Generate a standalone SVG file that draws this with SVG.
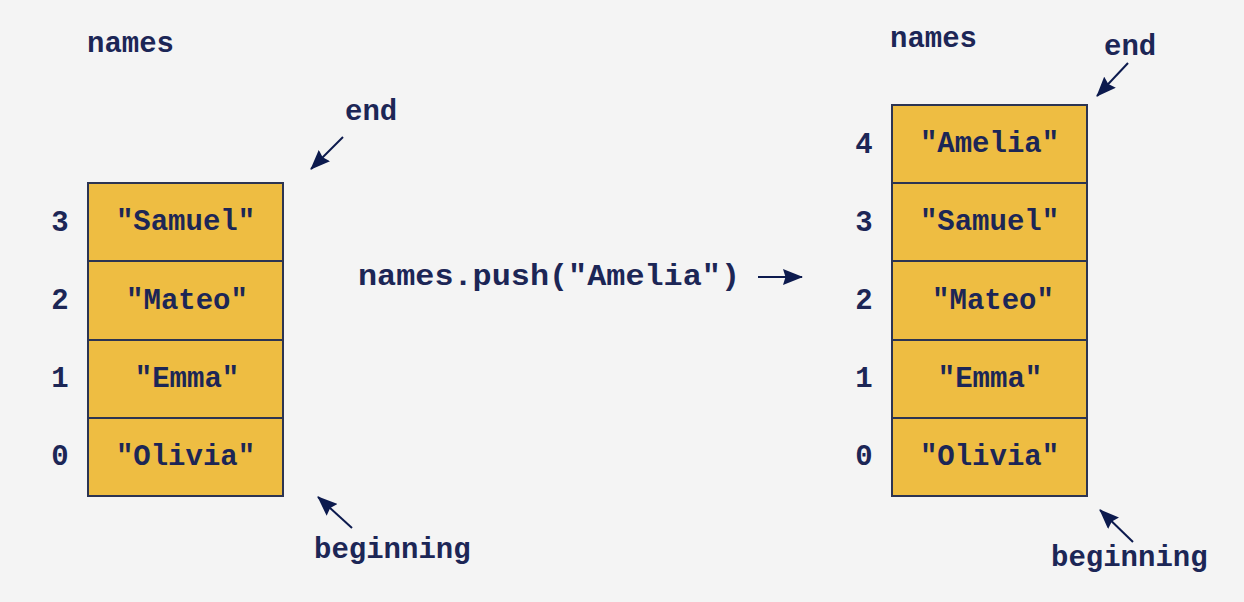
<svg xmlns="http://www.w3.org/2000/svg" width="1244" height="602" viewBox="0 0 1244 602">
<style>
.t{font-family:"Liberation Mono","Courier New",monospace;font-weight:bold;font-size:29px;fill:#1c2656}
.c{text-anchor:middle}
.cell{fill:#eebd42;stroke:#2c3452;stroke-width:2}
.arr{stroke:#0c1a4e;stroke-width:2;fill:none;marker-end:url(#ah)}
</style>
<defs>
<marker id="ah" viewBox="0 0 20 16" refX="19" refY="8" markerWidth="20" markerHeight="16" markerUnits="userSpaceOnUse" orient="auto">
<path d="M0,0 L20,8 L0,16 L2.5,8 z" fill="#0c1a4e"/>
</marker>
</defs>
<rect width="1244" height="602" fill="#f4f4f4"/>

<g id="left-array">
<text class="t" x="87" y="52">names</text>
<g id="l3"><rect class="cell" x="88" y="183" width="195" height="78"/><text class="t c" x="185.5" y="230">"Samuel"</text><text class="t c" x="60" y="231">3</text></g>
<g id="l2"><rect class="cell" x="88" y="261" width="195" height="79"/><text class="t c" x="187" y="309">"Mateo"</text><text class="t c" x="60" y="309">2</text></g>
<g id="l1"><rect class="cell" x="88" y="340" width="195" height="78"/><text class="t c" x="187" y="387">"Emma"</text><text class="t c" x="60" y="387">1</text></g>
<g id="l0"><rect class="cell" x="88" y="418" width="195" height="78"/><text class="t c" x="185.5" y="465">"Olivia"</text><text class="t c" x="60" y="465">0</text></g>
<text class="t" x="345" y="120">end</text>
<text class="t" x="314" y="558">beginning</text>
</g>

<g id="right-array">
<text class="t" x="890" y="47">names</text>
<g id="r4"><rect class="cell" x="892" y="105" width="195" height="78"/><text class="t c" x="989.5" y="152">"Amelia"</text><text class="t c" x="864" y="153">4</text></g>
<g id="r3"><rect class="cell" x="892" y="183" width="195" height="78"/><text class="t c" x="989.5" y="230">"Samuel"</text><text class="t c" x="864" y="231">3</text></g>
<g id="r2"><rect class="cell" x="892" y="261" width="195" height="79"/><text class="t c" x="993" y="309">"Mateo"</text><text class="t c" x="864" y="309">2</text></g>
<g id="r1"><rect class="cell" x="892" y="340" width="195" height="78"/><text class="t c" x="990" y="387">"Emma"</text><text class="t c" x="864" y="387">1</text></g>
<g id="r0"><rect class="cell" x="892" y="418" width="195" height="78"/><text class="t c" x="989.5" y="465">"Olivia"</text><text class="t c" x="864" y="465">0</text></g>
<text class="t" x="1104" y="55">end</text>
<text class="t" x="1051" y="566">beginning</text>
</g>

<g id="operation">
<text class="t" x="358" y="285" textLength="382" lengthAdjust="spacingAndGlyphs" style="font-size:30px">names.push("Amelia")</text>
</g>

<g id="connectors">
<line class="arr" x1="343" y1="137" x2="311" y2="169"/>
<line class="arr" x1="352" y1="528" x2="318" y2="497"/>
<line class="arr" x1="1128" y1="63" x2="1097" y2="96"/>
<line class="arr" x1="1133" y1="542" x2="1100" y2="510"/>
<line class="arr" x1="758" y1="277" x2="802" y2="277"/>
</g>
</svg>
